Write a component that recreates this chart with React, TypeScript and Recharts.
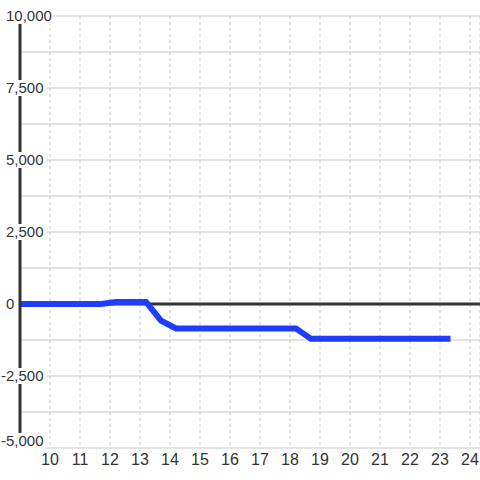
import React from "react";
import {
  LineChart,
  Line,
  XAxis,
  YAxis,
  CartesianGrid,
  ReferenceLine,
} from "recharts";

// series (hour of day -> value)
const hours = [9, 11.7, 12.2, 13.2, 13.7, 14.2, 18.2, 18.7, 23.35];
const values = [0, 0, 70, 70, -580, -850, -850, -1210, -1210];

const xTicks = [10, 11, 12, 13, 14, 15, 16, 17, 18, 19, 20, 21, 22, 23, 24];
const xDomain = [9, 24.333];
const yTicks = [-5000, -3750, -2500, -1250, 0, 1250, 2500, 3750, 5000, 6250, 7500, 8750, 10000];
const yLabelStep = 2500;
const yDomain = [-5000, 10000];

const data = hours.map((h, i) => ({ h, v: values[i] }));

const FONT = "'Liberation Sans', Arial, sans-serif";
const TEXT = "#333333";

// rough width of a label in 15px Liberation Sans
function labelWidth(s: string) {
  let w = 0;
  for (const c of s) {
    if (c === ",") w += 4.2;
    else if (c === "-") w += 5;
    else w += 8.34;
  }
  return w;
}

function YTick(props: any) {
  const { x, payload } = props;
  const val = payload.value as number;
  if (val % yLabelStep !== 0) return null;
  // the bottom label is pushed up so it stays above the x labels
  const y = val === yDomain[0] ? props.y - 7 : props.y;
  const text = val.toLocaleString("en-US");
  const w = labelWidth(text);
  const left = x - 14 - (val < 0 ? 5 : 0);
  return (
    <g>
      <rect x={left - 1} y={y - 8} width={w + 3} height={16} fill="#ffffff" />
      <text
        x={left}
        y={y}
        dy="0.35em"
        textAnchor="start"
        fontSize={15}
        fontFamily={FONT}
        fill={TEXT}
      >
        {text}
      </text>
    </g>
  );
}

export default function App() {
  return (
    <div style={{ position: "fixed", left: 0, top: 0, background: "#fff" }}>
      <LineChart
        width={480}
        height={480}
        data={data}
        margin={{ top: 16, right: 0, left: 0, bottom: 0 }}
      >
        <CartesianGrid horizontal={true} vertical={false} stroke="#c8c8c8" />
        <CartesianGrid
          horizontal={false}
          vertical={true}
          stroke="#c8c8c8"
          strokeDasharray="3 3"
        />
        <XAxis
          dataKey="h"
          type="number"
          domain={xDomain}
          ticks={xTicks}
          allowDataOverflow
          axisLine={false}
          tickLine={false}
          tickSize={0}
          tickMargin={6}
          height={32}
          interval={0}
          tick={{ fontSize: 16, fill: TEXT, fontFamily: FONT }}
        />
        <ReferenceLine y={0} stroke="#333333" strokeWidth={3} />
        <Line
          type="linear"
          dataKey="v"
          stroke="#1f3dff"
          strokeWidth={6}
          dot={false}
          activeDot={false}
          isAnimationActive={false}
        />
        <YAxis
          type="number"
          domain={yDomain}
          ticks={yTicks}
          interval={0}
          width={20}
          axisLine={{ stroke: "#333333", strokeWidth: 3 }}
          tickLine={false}
          tickSize={0}
          tickMargin={0}
          tick={<YTick />}
        />
      </LineChart>
    </div>
  );
}
